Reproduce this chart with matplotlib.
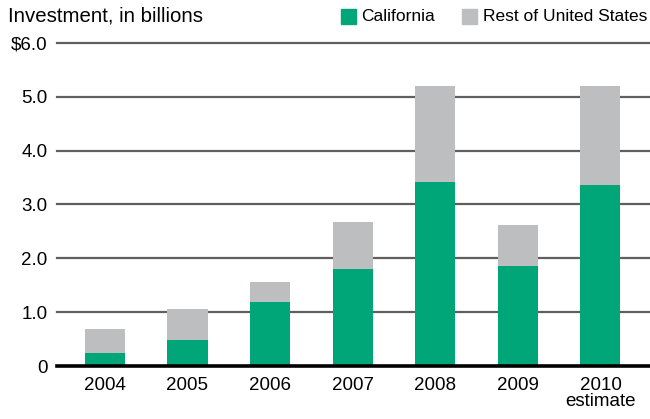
import matplotlib
matplotlib.use("Agg")
import matplotlib.pyplot as plt
from matplotlib.patches import Rectangle

years = ["2004", "2005", "2006", "2007", "2008", "2009", "2010\nestimate"]
california = [0.25, 0.48, 1.19, 1.80, 3.42, 1.86, 3.37]
total = [0.69, 1.06, 1.56, 2.67, 5.20, 2.61, 5.20]
rest_us = [t - c for t, c in zip(total, california)]
yticks = [0, 1, 2, 3, 4, 5, 6]
ytick_labels = ["0", "1.0", "2.0", "3.0", "4.0", "5.0", "$6.0"]

GREEN = "#00A677"
GRAY = "#BDBEC0"

plt.rcParams["font.family"] = ["Liberation Sans", "DejaVu Sans"]

W, H = 650, 419
fig = plt.figure(figsize=(W / 100, H / 100), dpi=100)
y0_px, y6_px = 366, 43
ax = fig.add_axes([57 / W, 1 - y0_px / H, 1 - 57 / W, (y0_px - y6_px) / H * 6.1 / 6.0])
ax.set_ylim(0, 6.1)
ax.set_xlim(-0.58, 6.6)

x = list(range(len(years)))
ax.bar(x, california, width=0.485, color=GREEN, zorder=3)
ax.bar(x, rest_us, bottom=california, width=0.485, color=GRAY, zorder=3)

for yt in yticks[1:]:
    ax.axhline(yt, color="#5f5f5f", lw=1.6, zorder=1, clip_on=False)
ax.axhline(0, color="black", lw=2.6, zorder=4, clip_on=False)

for s in ax.spines.values():
    s.set_visible(False)
ax.set_yticks(yticks)
ax.set_yticklabels(ytick_labels, fontsize=13.5)
ax.set_xticks(x)
ax.set_xticklabels(years, fontsize=13.5, linespacing=0.95)
ax.tick_params(axis="y", length=0, pad=7)
ax.tick_params(axis="x", length=0, pad=8)

fig.text(8 / W, 1 - 16 / H, "Investment, in billions", fontsize=14.7, va="center", ha="left")
# legend
fig.patches.append(Rectangle((341 / W, 1 - 24 / H), 15 / W, 15 / H, transform=fig.transFigure,
                             color=GREEN, figure=fig))
fig.text(361 / W, 1 - 16.5 / H, "California", fontsize=12.5, va="center", ha="left")
fig.patches.append(Rectangle((462 / W, 1 - 24 / H), 15 / W, 15 / H, transform=fig.transFigure,
                             color=GRAY, figure=fig))
fig.text(483 / W, 1 - 16.5 / H, "Rest of United States", fontsize=12.5, va="center", ha="left")

fig.savefig("out.png", dpi=100)
